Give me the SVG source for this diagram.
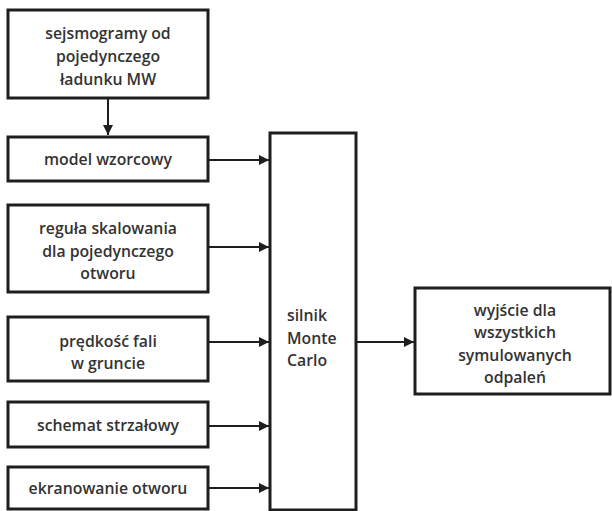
<svg xmlns="http://www.w3.org/2000/svg" width="612" height="511" viewBox="0 0 612 511">
<style>
.box{fill:#fff;stroke:#1e1e1e;stroke-width:3}
.t{font-family:"Open Sans","Liberation Sans",sans-serif;font-size:15.8px;font-weight:600;fill:#333;text-anchor:middle}
.tl{text-anchor:start}
.c{stroke:#1e1e1e;stroke-width:2;fill:none}
</style>
<defs>
<marker id="ah" viewBox="0 0 10 10" refX="10" refY="5" markerWidth="10" markerHeight="10" markerUnits="userSpaceOnUse" orient="auto">
<path d="M0,0 L10,5 L0,10 z" fill="#1e1e1e"/>
</marker>
</defs>
<rect width="612" height="511" fill="#fff"/>
<g id="connectors">
<line class="c" x1="108" y1="98" x2="108" y2="135" marker-end="url(#ah)"/>
<line class="c" x1="208" y1="160" x2="269" y2="160" marker-end="url(#ah)"/>
<line class="c" x1="208" y1="247" x2="269" y2="247" marker-end="url(#ah)"/>
<line class="c" x1="208" y1="342" x2="269" y2="342" marker-end="url(#ah)"/>
<line class="c" x1="208" y1="426" x2="269" y2="426" marker-end="url(#ah)"/>
<line class="c" x1="208" y1="488" x2="269" y2="488" marker-end="url(#ah)"/>
<line class="c" x1="356" y1="342" x2="414" y2="342" marker-end="url(#ah)"/>
</g>
<g id="n1"><rect class="box" x="8" y="10" width="200" height="88"/>
<text class="t" x="108" y="39">sejsmogramy od</text><text class="t" x="108" y="62">pojedynczego</text><text class="t" x="108" y="85">ładunku MW</text></g>
<g id="n2"><rect class="box" x="8" y="137" width="200" height="44"/>
<text class="t" x="108" y="165">model wzorcowy</text></g>
<g id="n3"><rect class="box" x="8" y="205" width="200" height="87"/>
<text class="t" x="108" y="234">reguła skalowania</text><text class="t" x="108" y="257">dla pojedynczego</text><text class="t" x="108" y="279">otworu</text></g>
<g id="n4"><rect class="box" x="8" y="317" width="200" height="64"/>
<text class="t" x="108" y="347">prędkość fali</text><text class="t" x="108" y="369">w gruncie</text></g>
<g id="n5"><rect class="box" x="8" y="402" width="200" height="45"/>
<text class="t" x="108" y="431">schemat strzałowy</text></g>
<g id="n6"><rect class="box" x="8" y="467" width="200" height="42"/>
<text class="t" x="108" y="494">ekranowanie otworu</text></g>
<g id="mc"><rect class="box" x="270" y="133" width="86" height="377"/>
<text class="t tl" x="287" y="321">silnik</text><text class="t tl" x="287" y="344">Monte</text><text class="t tl" x="287" y="366">Carlo</text></g>
<g id="out"><rect class="box" x="415" y="288" width="195" height="106"/>
<text class="t" x="515" y="316">wyjście dla</text><text class="t" x="515" y="338">wszystkich</text><text class="t" x="515" y="361">symulowanych</text><text class="t" x="515" y="383">odpaleń</text></g>
</svg>
